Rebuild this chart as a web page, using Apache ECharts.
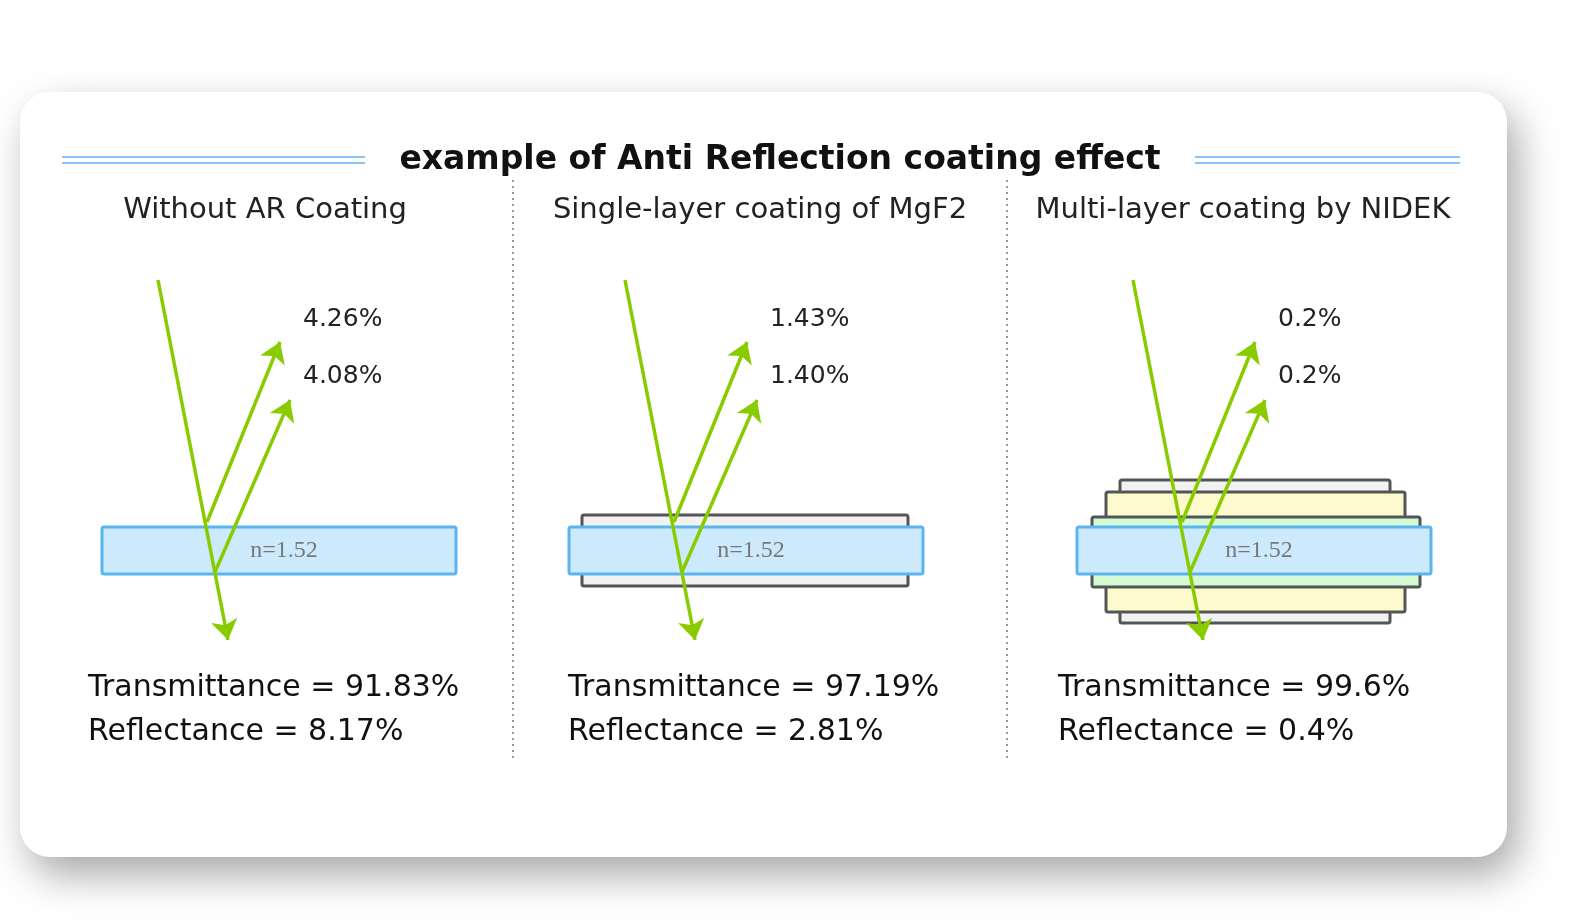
<!DOCTYPE html>
<html>
<head>
<meta charset="utf-8">
<script src="https://cdn.jsdelivr.net/npm/echarts@6/dist/echarts.min.js"></script>
<style>html,body{margin:0;background:#fff}#main{width:1571px;height:921px}</style>
</head>
<body>
<div id="main"></div>
<script>
var panelNames = ['Without AR Coating', 'Single-layer coating of MgF2', 'Multi-layer coating by NIDEK']
var panelOffsets = [0, 467, 975]
var reflectTop = ['4.26%', '1.43%', '0.2%']
var reflectBottom = ['4.08%', '1.40%', '0.2%']
var transmittance = ['91.83%', '97.19%', '99.6%']
var reflectance = ['8.17%', '2.81%', '0.4%']
// layers per panel: [x0, x1, y0, y1, fill]
var layers = [
  [],
  [[582, 908, 515, 586, '#f2f2f2']],
  [[1120, 1390, 480, 623, '#f2f2f2'], [1106, 1405, 492, 612, '#fdfbcd'], [1092, 1420, 517, 587, '#d4fbd4']]
]
// rays relative to panel 1: [x0, y0, x1, y1]
var rays = [[158, 280, 228, 640], [207, 522, 280, 342], [215, 572, 290, 400]]

var main = document.getElementById('main')
var myChart = echarts.init(main)

var rects = []
layers.forEach(function (ls) { ls.forEach(function (l) { rects.push(l.concat(['#555'])) }) })
panelOffsets.forEach(function (o) { rects.push([102 + o, 456 + o, 527, 574, '#cdeafc', '#5ab4f0']) })

var rayData = []
panelOffsets.forEach(function (o) {
  rays.forEach(function (r) { rayData.push({ coords: [[r[0] + o, r[1]], [r[2] + o, r[3]]] }) })
})

var font = 'DejaVu Sans, Arial, sans-serif'
var g = [
  { type: 'rect', shape: { x: 20, y: 92, width: 1487, height: 765, r: 30 },
    style: { fill: '#fff', shadowBlur: 40, shadowColor: 'rgba(0,0,0,0.35)', shadowOffsetX: 10, shadowOffsetY: 18 }, z: -10 },
  { type: 'text', x: 780, y: 160, style: { text: 'example of Anti Reflection coating effect', font: 'bold 33px ' + font, fill: '#111', align: 'center', verticalAlign: 'middle' } }
]
;[[62, 365], [1195, 1460]].forEach(function (s) {
  ;[157, 163].forEach(function (y) {
    g.push({ type: 'line', shape: { x1: s[0], y1: y, x2: s[1], y2: y }, style: { stroke: '#8cc4f4', lineWidth: 2 } })
  })
})
;[513, 1007].forEach(function (x) {
  g.push({ type: 'line', shape: { x1: x, y1: 180, x2: x, y2: 760 }, style: { stroke: '#999', lineWidth: 2, lineDash: [2, 4] } })
})
var subX = [265, 760, 1243]
panelOffsets.forEach(function (o, i) {
  g.push({ type: 'text', x: subX[i], y: 210, style: { text: panelNames[i], font: '29px ' + font, fill: '#222', align: 'center', verticalAlign: 'middle' } })
  g.push({ type: 'text', x: 303 + o, y: 319, style: { text: reflectTop[i], font: '25px ' + font, fill: '#222', verticalAlign: 'middle' } })
  g.push({ type: 'text', x: 303 + o, y: 376, style: { text: reflectBottom[i], font: '25px ' + font, fill: '#222', verticalAlign: 'middle' } })
  g.push({ type: 'text', z: 100, x: 284 + o, y: 551, style: { text: 'n=1.52', font: '24px Liberation Serif, serif', fill: '#777', align: 'center', verticalAlign: 'middle' } })
  var bx = [88, 568, 1058][i]
  g.push({ type: 'text', x: bx, y: 688, style: { text: 'Transmittance = ' + transmittance[i], font: '30px ' + font, fill: '#111', verticalAlign: 'middle' } })
  g.push({ type: 'text', x: bx, y: 732, style: { text: 'Reflectance = ' + reflectance[i], font: '30px ' + font, fill: '#111', verticalAlign: 'middle' } })
})

myChart.setOption({
  animation: false,
  grid: { left: 0, right: 0, top: 0, bottom: 0 },
  xAxis: { type: 'value', min: 0, max: 1571, show: false },
  yAxis: { type: 'value', min: 0, max: 921, inverse: true, show: false },
  graphic: g,
  series: [{
    type: 'custom',
    z: 1,
    data: rects,
    renderItem: function (params, api) {
      var p0 = api.coord([api.value(0), api.value(2)])
      var p1 = api.coord([api.value(1), api.value(3)])
      var d = rects[params.dataIndex]
      return { type: 'rect', shape: { x: p0[0], y: p0[1], width: p1[0] - p0[0], height: p1[1] - p0[1], r: 2 },
        style: { fill: d[4], stroke: d[5], lineWidth: 3 } }
    }
  }, {
    type: 'lines',
    coordinateSystem: 'cartesian2d',
    z: 5,
    symbol: ['none', 'arrow'],
    symbolSize: 20,
    lineStyle: { color: '#88cc00', width: 3.5, opacity: 1 },
    data: rayData
  }]
})
</script>
</body>
</html>
